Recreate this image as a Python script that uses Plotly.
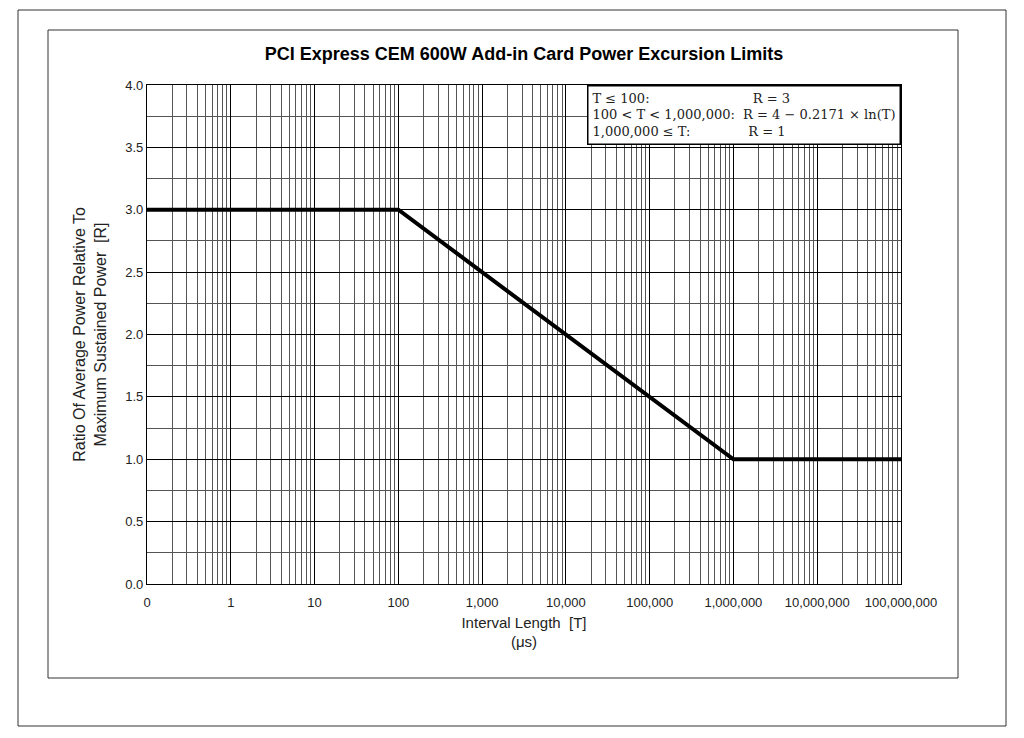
import plotly.graph_objects as go

T_vals = [0.1, 100, 1_000_000, 100_000_000]
R_vals = [3, 3, 1, 1]
x_tickvals = [0.1, 1, 10, 100, 1e3, 1e4, 1e5, 1e6, 1e7, 1e8]
x_ticktext = ["0", "1", "10", "100", "1,000", "10,000", "100,000", "1,000,000", "10,000,000", "100,000,000"]
y_tickvals = [0.0, 0.5, 1.0, 1.5, 2.0, 2.5, 3.0, 3.5, 4.0]
y_ticktext = ["0.0", "0.5", "1.0", "1.5", "2.0", "2.5", "3.0", "3.5", "4.0"]

O = 8  # page body offset
L, R, T, B = 147 - O, 901 - O, 85 - O, 584 - O
W, H = 1008, 722
def px(x): return (x - O - L) / (R - L)
def py(y): return (B - (y - O)) / (B - T)

fig = go.Figure(go.Scatter(x=T_vals, y=R_vals, mode="lines",
                           line=dict(color="black", width=4), showlegend=False))
fig.update_layout(
    width=W, height=H, margin=dict(l=L, r=W - R, t=T, b=H - B),
    paper_bgcolor="white", plot_bgcolor="white",
    font=dict(family="Liberation Sans, Arial", size=13, color="#222"),
    title=dict(text="<b>PCI Express CEM 600W Add-in Card Power Excursion Limits</b>",
               x=0.5, xref="paper", y=1 - (54 - O) / H, yanchor="middle", font=dict(size=18, color="black")),
    xaxis=dict(type="log", range=[-1, 8], tickvals=x_tickvals, ticktext=x_ticktext,
               showgrid=True, gridcolor="black", gridwidth=1.2,
               minor=dict(showgrid=True, gridcolor="#555", gridwidth=0.6, dtick="D1"),
               showline=True, linecolor="black", mirror=True, linewidth=1.2,
               ticks="", ticklabelstandoff=6, tickfont=dict(size=13),
               title=dict(text="Interval Length  [T]<br>(μs)", font=dict(size=15), standoff=8)),
    yaxis=dict(range=[0, 4], tickvals=y_tickvals, ticktext=y_ticktext,
               showgrid=True, gridcolor="black", gridwidth=1.2,
               minor=dict(showgrid=True, gridcolor="#555", gridwidth=0.6, dtick=0.25),
               showline=True, linecolor="black", mirror=True, linewidth=1.2,
               ticks="", zeroline=False, tickfont=dict(size=13),
               title=dict(text="Ratio Of Average Power Relative To<br>Maximum Sustained Power  [R]",
                          font=dict(size=16), standoff=14)),
    shapes=[
        dict(type="rect", xref="paper", yref="paper", x0=px(18), x1=px(1006), y0=py(726), y1=py(10),
             line=dict(color="#333", width=1)),
        dict(type="rect", xref="paper", yref="paper", x0=px(48), x1=px(958), y0=py(678), y1=py(30),
             line=dict(color="#333", width=1)),
    ],
    annotations=[dict(
        xref="paper", yref="paper", x=1.0, y=1.0, xanchor="right", yanchor="top", align="left",
        text="T ≤ 100:                         R = 3<br>100 < T < 1,000,000:  R = 4 − 0.2171 × ln(T)<br>1,000,000 ≤ T:              R = 1",
        showarrow=False, bgcolor="white", bordercolor="black", borderwidth=1.5, borderpad=4,
        font=dict(family="DejaVu Serif, serif", size=13, color="#222"))],
)
fig.write_html("out.html")
